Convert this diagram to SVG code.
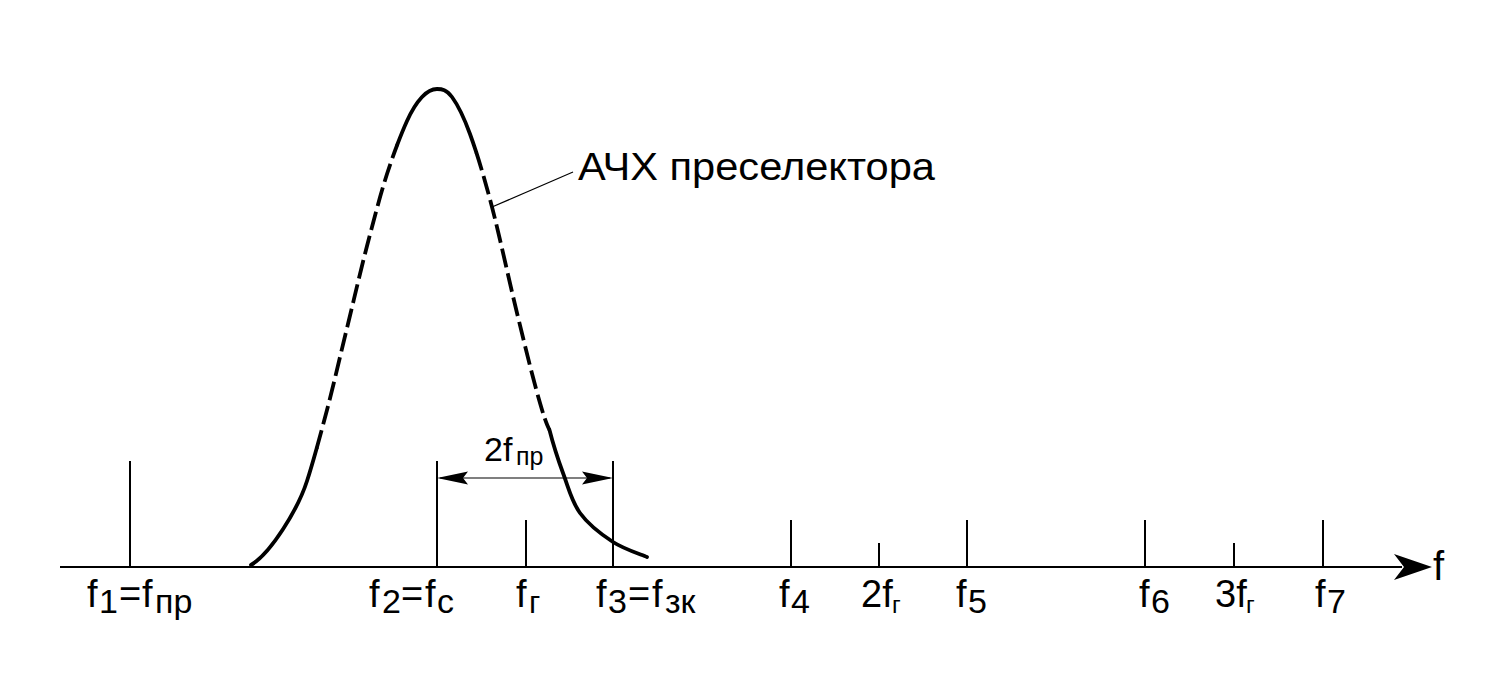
<svg xmlns="http://www.w3.org/2000/svg" width="1505" height="679" viewBox="0 0 1505 679">
<style>
.ax{stroke:#000;stroke-width:2;fill:none}
.tk{stroke:#000;stroke-width:2;fill:none}
.cv{stroke:#000;stroke-width:3.8;fill:none;stroke-linecap:round}
.dash{stroke-dasharray:19 6;stroke-linecap:butt}
.thin{stroke:#000;stroke-width:1.2;fill:none}
.t{font-family:"Liberation Sans",Arial,sans-serif;font-size:38px;fill:#000}
.s{font-family:"Liberation Sans Narrow","Liberation Sans",Arial,sans-serif;font-size:34px;fill:#000}
.ss{font-family:"Liberation Sans",Arial,sans-serif;font-size:24px;fill:#000}
</style>
<rect width="1505" height="679" fill="#fff"/>
<g id="connectors">
<line class="ax" x1="60" y1="567" x2="1402" y2="567"/>
<polygon points="1432,567 1394,554 1404,567 1394,580" fill="#000"/>
<line class="thin" x1="492" y1="207" x2="573" y2="172"/>
<line class="thin" x1="440" y1="478" x2="610" y2="478"/>
<polygon points="437,478 468,471.5 463,478 468,484.5" fill="#000"/>
<polygon points="613,478 582,471.5 587,478 582,484.5" fill="#000"/>
</g>
<g id="afc">
<path class="cv" d="M251,565 C271,553 298,509 307,481 C309.85,472.1 313.18,460.73 316.63,448.39"/>
<path class="cv dash" d="M316.63,448.39 C320.08,436.05 323.65,422.75 327,410 C333.7,384.5 340.3,355.3 347,328 C353.7,300.7 360.3,271.7 367,246 C373.7,220.3 380.3,194.8 387,174 C390.35,163.6 393.9,153.55 397.34,144.5"/>
<path class="cv" d="M397.34,144.5 C400.78,135.45 404.1,127.4 407,121 C412.8,108.2 417,102.3 422,97 C427,91.7 432,89 437,89 C442,89 446.5,89.5 452,97 C457.5,104.5 463.3,115.7 470,134 C472.01,139.49 474.09,145.57 476.23,152.2"/>
<path class="cv dash" d="M476.23,152.2 C481.23,167.68 486.54,186.14 492,207 C499.8,236.8 509,280.3 517,313 C525,345.7 532.3,376.3 540,403 C543.08,413.68 546.3,424.09 549.49,429.91"/>
<path class="cv" d="M549.49,429.91 C554.28,448.63 558.98,462.02 563,473 C569.7,491.3 571.7,501.5 580,513 C588.3,524.5 601.8,534.7 613,542 C624.2,549.3 641.3,554.5 647,557"/>
</g>
<g id="ticks">
<line class="tk" x1="130" y1="461" x2="130" y2="567"/>
<line class="tk" x1="437" y1="461" x2="437" y2="567"/>
<line class="tk" x1="526" y1="520" x2="526" y2="567"/>
<line class="tk" x1="613" y1="461" x2="613" y2="567"/>
<line class="tk" x1="791" y1="520" x2="791" y2="567"/>
<line class="tk" x1="879" y1="543" x2="879" y2="567"/>
<line class="tk" x1="967" y1="520" x2="967" y2="567"/>
<line class="tk" x1="1145" y1="520" x2="1145" y2="567"/>
<line class="tk" x1="1234" y1="543" x2="1234" y2="567"/>
<line class="tk" x1="1323" y1="520" x2="1323" y2="567"/>
</g>
<g id="labels">
<text class="t" x="578" y="180" textLength="357" lengthAdjust="spacingAndGlyphs">АЧХ преселектора</text>
<g id="lbl-2fpr"><text class="t" x="484" y="461" style="font-size:34px">2f</text><text class="ss" x="516" y="465" style="font-size:25px">пр</text></g>
<g id="lbl-f1"><text class="t" x="87" y="607">f</text><text class="s" x="99" y="613">1</text><text class="t" x="119" y="607">=</text><text class="t" x="142" y="607">f</text><text class="s" x="155" y="613">пр</text></g>
<g id="lbl-f2"><text class="t" x="369" y="607">f</text><text class="s" x="382" y="613">2</text><text class="t" x="401" y="607">=</text><text class="t" x="425" y="607">f</text><text class="s" x="437" y="613">с</text></g>
<g id="lbl-fg"><text class="t" x="516" y="607">f</text><text class="s" x="529" y="613" style="font-size:31px">г</text></g>
<g id="lbl-f3"><text class="t" x="596" y="607">f</text><text class="s" x="608" y="613">3</text><text class="t" x="628" y="607">=</text><text class="t" x="652" y="607">f</text><text class="s" x="665" y="613">зк</text></g>
<g id="lbl-f4"><text class="t" x="779" y="607">f</text><text class="s" x="791" y="613">4</text></g>
<g id="lbl-2fg"><text class="t" x="861" y="607">2f</text><text class="ss" x="892" y="613">г</text></g>
<g id="lbl-f5"><text class="t" x="956" y="607">f</text><text class="s" x="968" y="613">5</text></g>
<g id="lbl-f6"><text class="t" x="1139" y="607">f</text><text class="s" x="1151" y="613">6</text></g>
<g id="lbl-3fg"><text class="t" x="1215" y="607">3f</text><text class="ss" x="1246" y="613">г</text></g>
<g id="lbl-f7"><text class="t" x="1315" y="607">f</text><text class="s" x="1327" y="613">7</text></g>
<g id="lbl-f"><text class="t" x="1433" y="580" style="font-size:40px">f</text></g>
</g>
</svg>
